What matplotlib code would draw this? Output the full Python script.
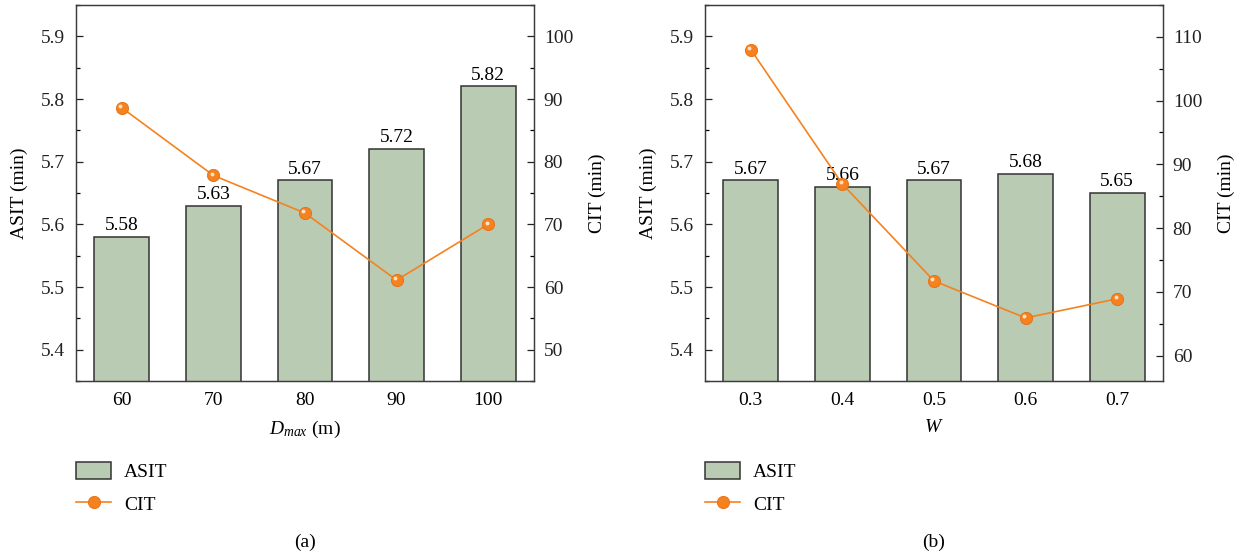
import numpy as np
import matplotlib
matplotlib.use("Agg")
import matplotlib.pyplot as plt
from matplotlib.ticker import MultipleLocator
from matplotlib.transforms import ScaledTranslation

# datos
dmax_labels = ["60", "70", "80", "90", "100"]
asit_dmax = [5.58, 5.63, 5.67, 5.72, 5.82]
cit_dmax = [88.6, 77.8, 71.8, 61.1, 70.0]

w_labels = ["0.3", "0.4", "0.5", "0.6", "0.7"]
asit_w = [5.67, 5.66, 5.67, 5.68, 5.65]
cit_w = [108.0, 86.9, 71.7, 65.9, 68.9]

plt.rcParams["font.family"] = ["Liberation Serif", "DejaVu Serif"]
plt.rcParams["font.size"] = 14
plt.rcParams["mathtext.fontset"] = "custom"
plt.rcParams["mathtext.rm"] = "Liberation Serif"
plt.rcParams["mathtext.it"] = "Liberation Serif:italic"

BAR_COLOR = "#b9cbb3"
EDGE = "#333333"
ORANGE = "#f5821f"
SPINE = "#3c3c3c"

W, H = 1245, 556
fig = plt.figure(figsize=(W / 100, H / 100), dpi=100)


def panel(left_px, width_px, labels, asit, cit, xlabel, cit_lim, cit_major, tag):
    ax = fig.add_axes([left_px / W, (H - 381) / H, width_px / W, 376 / H])
    x = np.arange(len(labels))
    bars = ax.bar(x, asit, width=0.6, color=BAR_COLOR, edgecolor=EDGE,
                  linewidth=1.1, label="ASIT", zorder=2)
    ax.bar_label(bars, fmt="%.2f", padding=2, fontsize=14)
    ax.set_xlim(-0.5, len(labels) - 0.5)
    ax.set_ylim(5.35, 5.95)
    ax.set_xticks(x)
    ax.set_xticklabels(labels)
    ax.yaxis.set_major_locator(MultipleLocator(0.1))
    ax.yaxis.set_minor_locator(MultipleLocator(0.05))
    ax.set_ylabel("ASIT (min)", labelpad=9)
    ax.set_xlabel(xlabel, labelpad=7)
    ax.tick_params(axis="y", direction="in", length=5, width=0.9,
                   colors="#222222", pad=8)
    ax.tick_params(axis="y", which="minor", direction="in", length=3, width=0.9)
    ax.tick_params(axis="x", length=0, pad=8)

    ax2 = ax.twinx()
    line, = ax2.plot(x, cit, color=ORANGE, lw=1.2, marker="o", markersize=8.8,
                     markerfacecolor=ORANGE, markeredgecolor="#e56e12",
                     markeredgewidth=0.6, label="CIT", zorder=3)
    # brillo de la esfera
    off = ScaledTranslation(-1.2 / 72, 1.3 / 72, fig.dpi_scale_trans)
    ax2.plot(x, cit, ls="none", marker="o", markersize=2.8, color="#ffe2c4",
             markeredgewidth=0, transform=ax2.transData + off, zorder=4)
    ax2.set_ylim(*cit_lim)
    ax2.yaxis.set_major_locator(MultipleLocator(cit_major))
    ax2.yaxis.set_minor_locator(MultipleLocator(cit_major / 2))
    ax2.set_ylabel("CIT (min)", labelpad=11)
    ax2.tick_params(axis="y", direction="in", length=5, width=0.9,
                    colors="#222222", pad=7)
    ax2.tick_params(axis="y", which="minor", direction="in", length=3, width=0.9)

    for a in (ax, ax2):
        for s in a.spines.values():
            s.set_color(SPINE)
            s.set_linewidth(0.9)

    fig.legend([bars, line], ["ASIT", "CIT"], loc="upper left",
               bbox_to_anchor=(left_px / W, 1 - 462 / H),
               frameon=False, borderpad=0, borderaxespad=0,
               handlelength=1.8, handleheight=0.93, handletextpad=0.67,
               labelspacing=0.72, fontsize=14)
    fig.text((left_px + width_px / 2) / W, 1 - 542 / H, tag,
             ha="center", va="center", fontsize=14)
    return ax, ax2


panel(76, 458, dmax_labels, asit_dmax, cit_dmax, r"$D_{max}$ (m)", (45, 105), 10, "(a)")
panel(705, 458, w_labels, asit_w, cit_w, r"$W$", (56, 115), 10, "(b)")

fig.savefig("out.png", dpi=100)
